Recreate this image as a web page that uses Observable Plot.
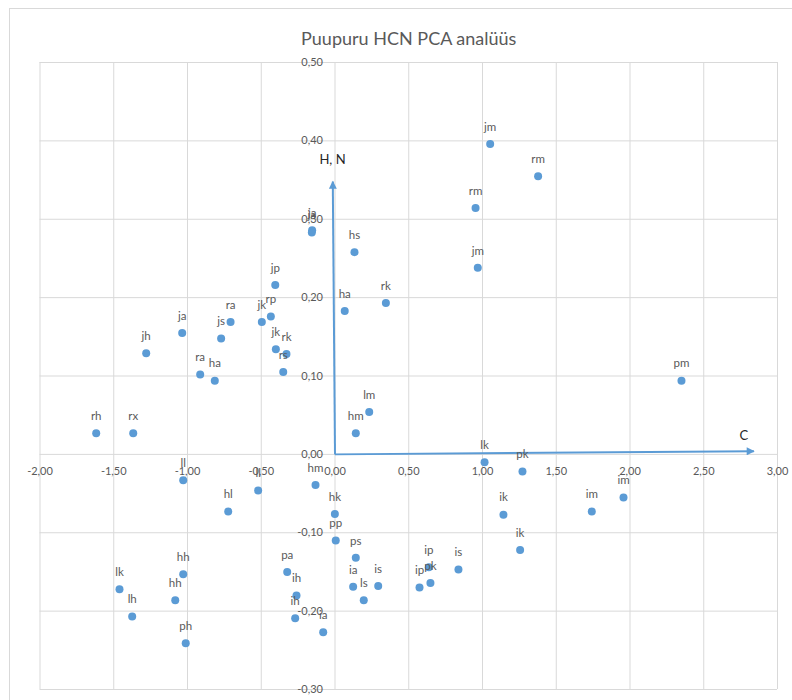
<!DOCTYPE html>
<html>
<head>
<meta charset="utf-8">
<script src="https://cdn.jsdelivr.net/npm/d3@7"></script>
<script src="https://cdn.jsdelivr.net/npm/@observablehq/plot@0.6"></script>
<style>
  html, body { margin: 0; padding: 0; background: #fff; overflow: hidden; }
  #wrap { position: relative; width: 792px; height: 700px; }
  #border { position: absolute; left: 9px; top: 8px; width: 820px; height: 740px;
            border: 1px solid #d9d9d9; pointer-events: none; z-index: 2; }
</style>
</head>
<body>
<div id="wrap"><div id="border"></div></div>
<script>
const title = "Puupuru HCN PCA analüüs";

const pointLabels = ["jm","rm","rm","jm","rk","hs","ja","ja","ha","lm","hm",
  "rh","rx","jh","ja","ra","ha","js","ra","jk","rp","jp","jk","rk","rs",
  "pm","lk","pk","im","ik","im","ik","is","ip","pk","ip",
  "ll","ll","hm","hl","hk","pp","ps","hh","lk","hh","lh","ph",
  "pa","ih","ih","ia","ia","ls","is"];
const pointX = [1.052,1.377,0.953,0.968,0.345,0.132,-0.157,-0.155,0.066,0.232,0.141,
  -1.619,-1.368,-1.280,-1.036,-0.914,-0.815,-0.772,-0.708,-0.496,-0.435,-0.405,-0.401,-0.329,-0.351,
  2.349,1.014,1.271,1.956,1.142,1.741,1.255,0.837,0.636,0.647,0.573,
  -1.029,-0.521,-0.132,-0.724,-0.001,0.005,0.141,-1.029,-1.461,-1.083,-1.375,-1.012,
  -0.324,-0.261,-0.270,-0.080,0.123,0.195,0.293];
const pointY = [0.396,0.355,0.3145,0.238,0.193,0.258,0.283,0.286,0.183,0.054,0.027,
  0.027,0.027,0.129,0.155,0.102,0.094,0.148,0.169,0.169,0.176,0.216,0.134,0.128,0.105,
  0.094,-0.010,-0.022,-0.055,-0.077,-0.073,-0.122,-0.147,-0.144,-0.164,-0.170,
  -0.033,-0.046,-0.039,-0.073,-0.076,-0.110,-0.132,-0.153,-0.172,-0.186,-0.207,-0.241,
  -0.150,-0.180,-0.209,-0.227,-0.169,-0.186,-0.168];

const xTicks = [-2,-1.5,-1,-0.5,0,0.5,1,1.5,2,2.5,3];
const yTicks = [-0.3,-0.2,-0.1,0,0.1,0.2,0.3,0.4,0.5];

const arrowNames = ["C","H, N"];
const arrowX1 = [0, 0];
const arrowY1 = [0, 0];
const arrowX2 = [2.84, -0.015];
const arrowY2 = [0.004, 0.348];
const arrowLabelX = [2.771, -0.017];
const arrowLabelY = [0.0232, 0.376];

const points = pointLabels.map((t, i) => ({label: t, x: pointX[i], y: pointY[i]}));
const arrows = arrowNames.map((n, i) => ({name: n, x1: arrowX1[i], y1: arrowY1[i], x2: arrowX2[i], y2: arrowY2[i], lx: arrowLabelX[i], ly: arrowLabelY[i]}));
const fmt = d => d.toFixed(2).replace(".", ",");

const grey = "#595959";
const blue = "#5b9bd5";

const chart = Plot.plot({
  width: 792,
  height: 700,
  marginLeft: 39.5,
  marginRight: 15,
  marginTop: 62,
  marginBottom: 11,
  x: {domain: [-2, 3], axis: null},
  y: {domain: [-0.3, 0.5], axis: null},
  style: {fontFamily: "Lato, sans-serif", background: "white"},
  marks: [
    Plot.gridX(xTicks, {stroke: "#d9d9d9", strokeOpacity: 1, strokeWidth: 1}),
    Plot.gridY(yTicks, {stroke: "#d9d9d9", strokeOpacity: 1, strokeWidth: 1}),
    Plot.text(xTicks, {x: d => d, y: () => 0, text: fmt, dy: 17, fill: grey, fontSize: 11}),
    Plot.text(yTicks, {x: () => 0, y: d => d, text: fmt, dx: -12, textAnchor: "end", fill: grey, fontSize: 11}),
    Plot.link(arrows, {x1: "x1", y1: "y1", x2: "x2", y2: "y2", stroke: blue, strokeWidth: 2, ariaDescription: "pca-arrow"}),
    Plot.dot(points, {x: "x", y: "y", r: 4, fill: blue, stroke: null}),
    Plot.text(points, {x: "x", y: "y", text: "label", dy: -17, fill: grey, fontSize: 11.5}),
    Plot.text(arrows, {x: "lx", y: "ly", text: "name", fill: "#262626", fontSize: 13}),
    Plot.text([title], {frameAnchor: "top", text: d => d, dy: -30, fill: grey, fontSize: 18})
  ]
});

const svg = d3.select(chart.tagName.toLowerCase() === "svg" ? chart : chart.querySelector("svg"));
const defs = svg.insert("defs", ":first-child");
defs.append("marker")
  .attr("id", "pcaHead")
  .attr("viewBox", "0 0 10 10")
  .attr("refX", 9)
  .attr("refY", 5)
  .attr("markerWidth", 10)
  .attr("markerHeight", 8)
  .attr("markerUnits", "userSpaceOnUse")
  .attr("orient", "auto")
  .append("path")
  .attr("d", "M0,0L10,5L0,10Z")
  .attr("fill", blue);
svg.selectAll('g[aria-label="link"] path, g[aria-description="pca-arrow"] path')
  .attr("marker-end", "url(#pcaHead)");

document.getElementById("wrap").appendChild(chart);
</script>
</body>
</html>
